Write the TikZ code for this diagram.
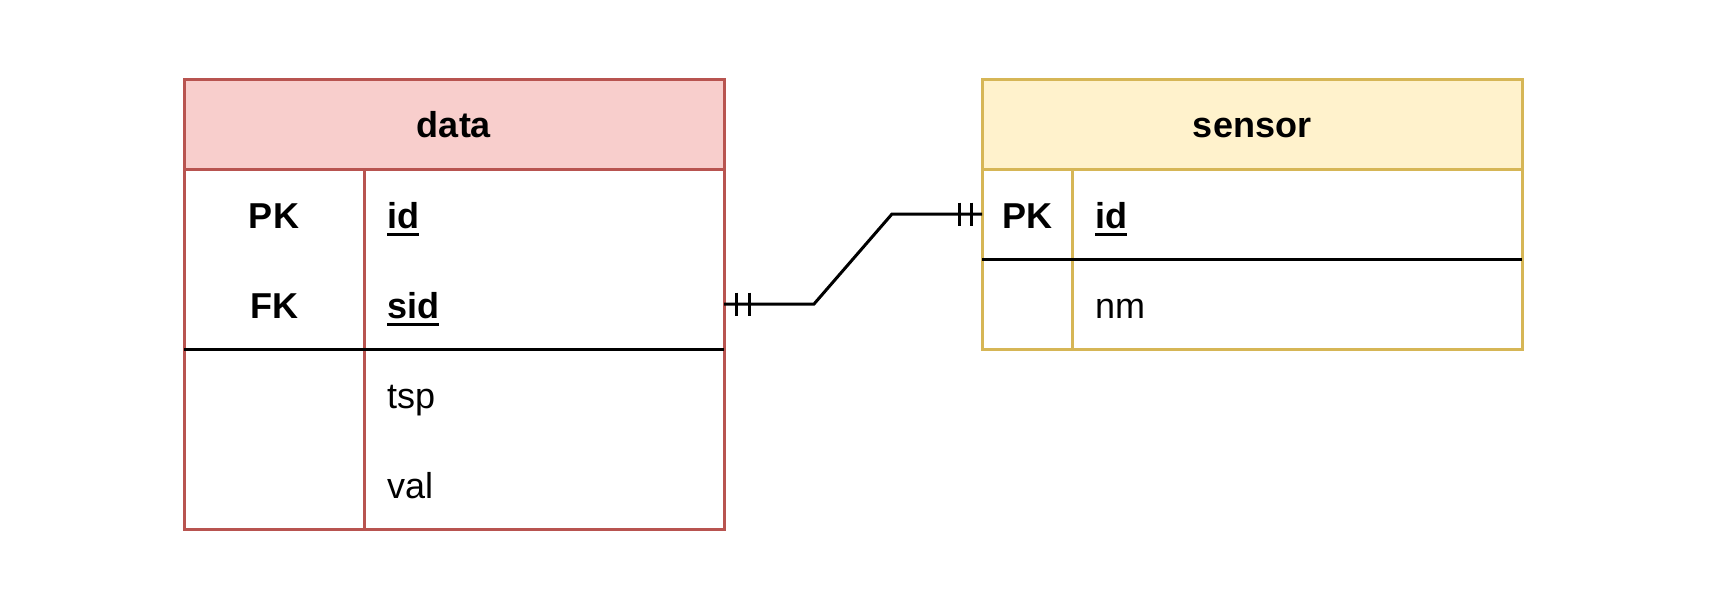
\documentclass[tikz,border=0pt]{standalone}
\usepackage{fontspec}
\setmainfont{Liberation Sans}
\usetikzlibrary{calc}
\definecolor{redfill}{HTML}{F8CECC}
\definecolor{redline}{HTML}{B85450}
\definecolor{yelfill}{HTML}{FFF2CC}
\definecolor{yelline}{HTML}{D6B656}
\newcommand{\ulword}[1]{\setbox0=\hbox{#1}\rlap{\rule[-7.5pt]{\wd0}{3pt}}\box0}
\begin{document}
\begin{tikzpicture}[x=1pt,y=-1pt,
  box/.style={rectangle, anchor=north west, inner sep=0pt, outer sep=0pt, line width=3pt},
  rowbox/.style={rectangle, anchor=north west, inner sep=0pt, outer sep=0pt, minimum height=90pt},
  txt/.style={inner sep=0pt, font=\fontsize{36}{43}\selectfont},
  btxt/.style={txt, font=\fontsize{36}{43}\selectfont\bfseries},
  sepline/.style={line width=3pt, black},
  conn/.style={line width=3pt, black},
]
\useasboundingbox (0,0) rectangle (1713,603);

% ---- data table ----
\node[box, draw=redline, fill=redfill, minimum width=540pt, minimum height=90pt] (dh) at (184,79) {};
\node[box, draw=redline, minimum width=180pt, minimum height=360pt] (dk) at (184,169) {};
\node[box, draw=redline, minimum width=360pt, minimum height=360pt] (dv) at (364,169) {};
\draw[sepline] (dk.west) -- (dv.east);
\node[rowbox, minimum width=360pt] (dr1) at (364,169) {};
\node[rowbox, minimum width=360pt] (dr2) at (364,259) {};

\node[btxt, anchor=base] (dtitle) at (454,137) {data};
\node[btxt, anchor=base] (dpk) at (274,228) {PK};
\node[btxt, anchor=base] (dfk) at (274,318) {FK};
\node[btxt, anchor=base west] (did) at (387,228) {\ulword{id}};
\node[btxt, anchor=base west] (dsid) at (387,318) {\ulword{sid}};
\node[txt, anchor=base west] (dtsp) at (387,408) {tsp};
\node[txt, anchor=base west] (dval) at (387,498) {val};

% ---- sensor table ----
\node[box, draw=yelline, fill=yelfill, minimum width=540pt, minimum height=90pt] (sh) at (982,79) {};
\node[box, draw=yelline, minimum width=90pt, minimum height=180pt] (sk) at (982,169) {};
\node[box, draw=yelline, minimum width=450pt, minimum height=180pt] (sv) at (1072,169) {};
\draw[sepline] (sk.west) -- (sv.east);
\node[rowbox, minimum width=90pt] (sr1) at (982,169) {};

\node[btxt, anchor=base] (stitle) at (1252,137) {sensor};
\node[btxt, anchor=base] (spk) at (1027,228) {PK};
\node[btxt, anchor=base west] (sid) at (1095,228) {\ulword{id}};
\node[txt, anchor=base west] (snm) at (1095,318) {nm};

% ---- connector ----
\draw[conn] (dr2.east) -- ++(90,0) -- ($(sr1.west)+(-90,0)$) -- (sr1.west);
\draw[conn] ([xshift=12pt]dr2.east) ++(0,-11.5) -- ++(0,23);
\draw[conn] ([xshift=25pt]dr2.east) ++(0,-11.5) -- ++(0,23);
\draw[conn] ([xshift=-23pt]sr1.west) ++(0,-11.5) -- ++(0,23);
\draw[conn] ([xshift=-11pt]sr1.west) ++(0,-11.5) -- ++(0,23);
\end{tikzpicture}
\end{document}
